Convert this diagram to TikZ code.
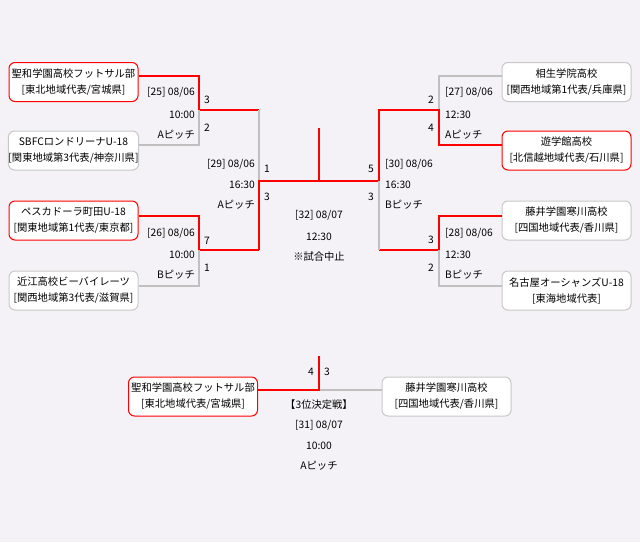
\documentclass[tikz,border=0pt]{standalone}
\usepackage{fontspec}
\setmainfont{Noto Sans CJK JP}
\begin{document}
\begin{tikzpicture}[x=1pt,y=-1pt,font=\fontsize{10.3}{16}\selectfont,
 team/.style={draw=boxgray,fill=white,rounded corners=6pt,line width=1pt,minimum width=129pt,minimum height=39pt,align=center,inner sep=0pt},
 win/.style={team,draw=red},
 rl/.style={red,line width=2pt},
 gl/.style={draw=linegray,line width=2pt},
 lab/.style={inner sep=0pt}]
\definecolor{boxgray}{HTML}{C8C8C8}
\definecolor{linegray}{HTML}{C0C0C0}
\definecolor{bg}{HTML}{F4F2F6}
\fill[bg] (0,0) rectangle (640,542);
\useasboundingbox (0,0) rectangle (640,542);
% teams
\node[win] (a1) at (73.5,82) {聖和学園高校フットサル部\\{}[東北地域代表/宮城県]};
\node[team] (a2) at (73.5,150.5) {SBFCロンドリーナU-18\\{}[関東地域第3代表/神奈川県]};
\node[win] (a3) at (73.5,220.5) {ペスカドーラ町田U-18\\{}[関東地域第1代表/東京都]};
\node[team] (a4) at (73.5,290.5) {近江高校ビーバイレーツ\\{}[関西地域第3代表/滋賀県]};
\node[team] (b1) at (566.5,82) {相生学院高校\\{}[関西地域第1代表/兵庫県]};
\node[win] (b2) at (566.5,150.5) {遊学館高校\\{}[北信越地域代表/石川県]};
\node[team] (b3) at (566.5,220.5) {藤井学園寒川高校\\{}[四国地域代表/香川県]};
\node[team] (b4) at (566.5,290.5) {名古屋オーシャンズU-18\\{}[東海地域代表]};
\node[win] (c1) at (193,396.5) {聖和学園高校フットサル部\\{}[東北地域代表/宮城県]};
\node[team] (c2) at (446.5,396.5) {藤井学園寒川高校\\{}[四国地域代表/香川県]};
% coordinates
\coordinate (top) at (319,128);
\coordinate (m) at (319,181);
\coordinate (ltop) at (319,356);
\coordinate (lm) at (319,390);
% left bracket
\draw[rl] (a1.east|-0,76) -- (199,76) -- (199,110) -- (259,110);
\draw[gl] (a2.east|-0,145) -- (199,145) -- (199,110);
\draw[rl] (a3.east|-0,216) -- (199,216) -- (199,250) -- (259,250);
\draw[gl] (a4.east|-0,286) -- (199,286) -- (199,250);
\draw[gl] (259,110) -- (259,181);
\draw[rl] (259,250) -- (259,181) -- (m);
\draw[rl] (top) -- (m) -- (379,181);
% right bracket
\draw[gl] (b1.west|-0,76) -- (439,76) -- (439,110);
\draw[rl] (b2.west|-0,145) -- (439,145) -- (439,110) -- (379,110) -- (379,181);
\draw[rl] (b3.west|-0,216) -- (439,216) -- (439,250) -- (379,250);
\draw[gl] (b4.west|-0,286) -- (439,286) -- (439,250);
\draw[gl] (379,181) -- (379,250);
% third place
\draw[gl] (lm) -- (c2.west|-lm);
\draw[rl] (ltop) -- (lm) -- (c1.east|-lm);
% left labels
\node[lab,anchor=east] (l25a) at (195,92) {[25] 08/06};
\node[lab,anchor=east] (l25b) at (195,115) {10:00};
\node[lab,anchor=east] (l25c) at (195,135) {Aピッチ};
\node[lab,anchor=west] (s1) at (204,100) {3};
\node[lab,anchor=west] (s2) at (204,128) {2};
\node[lab,anchor=east] (l29a) at (255,164) {[29] 08/06};
\node[lab,anchor=east] (l29b) at (255,185) {16:30};
\node[lab,anchor=east] (l29c) at (255,205) {Aピッチ};
\node[lab,anchor=west] (s3) at (264,169) {1};
\node[lab,anchor=west] (s4) at (264,197) {3};
\node[lab,anchor=east] (l26a) at (195,233) {[26] 08/06};
\node[lab,anchor=east] (l26b) at (195,255) {10:00};
\node[lab,anchor=east] (l26c) at (195,275) {Bピッチ};
\node[lab,anchor=west] (s5) at (204,241) {7};
\node[lab,anchor=west] (s6) at (204,268) {1};
% center
\node[lab] (c32a) at (319,215) {[32] 08/07};
\node[lab] (c32b) at (319,237) {12:30};
\node[lab] (c32c) at (319,257) {※試合中止};
% right labels
\node[lab,anchor=west] (r27a) at (445,92) {[27] 08/06};
\node[lab,anchor=west] (r27b) at (445,115) {12:30};
\node[lab,anchor=west] (r27c) at (445,135) {Aピッチ};
\node[lab,anchor=east] (t1) at (434,100) {2};
\node[lab,anchor=east] (t2) at (434,128) {4};
\node[lab,anchor=west] (r30a) at (385,164) {[30] 08/06};
\node[lab,anchor=west] (r30b) at (385,185) {16:30};
\node[lab,anchor=west] (r30c) at (385,205) {Bピッチ};
\node[lab,anchor=east] (t3) at (374,169) {5};
\node[lab,anchor=east] (t4) at (374,197) {3};
\node[lab,anchor=west] (r28a) at (445,233) {[28] 08/06};
\node[lab,anchor=west] (r28b) at (445,255) {12:30};
\node[lab,anchor=west] (r28c) at (445,275) {Bピッチ};
\node[lab,anchor=east] (t5) at (434,240) {3};
\node[lab,anchor=east] (t6) at (434,268) {2};
% bottom
\node[lab,anchor=east] (u1) at (314,372) {4};
\node[lab,anchor=west] (u2) at (324,372) {3};
\node[lab] (d1) at (319,405) {【3位決定戦】};
\node[lab] (d2) at (319,425) {[31] 08/07};
\node[lab] (d3) at (319,446) {10:00};
\node[lab] (d4) at (319,466) {Aピッチ};
\end{tikzpicture}
\end{document}
